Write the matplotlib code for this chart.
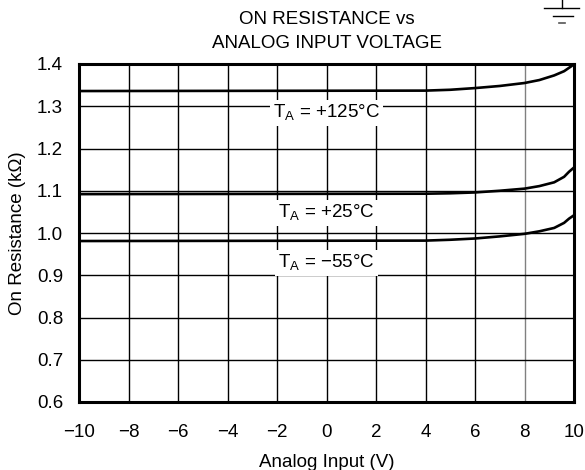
import matplotlib.pyplot as plt
from matplotlib.lines import Line2D

plt.rcParams['font.family'] = ['Liberation Sans', 'DejaVu Sans']

# analog input voltage (V)
v_in = [-10, 4, 5, 6, 7, 8, 8.6, 9.2, 9.6, 9.8, 9.9, 10]
# on resistance (kOhm) per temperature
r_125 = [1.336, 1.337, 1.339, 1.343, 1.348, 1.355, 1.362, 1.373, 1.383, 1.391, 1.395, 1.400]
r_25 = [1.092, 1.093, 1.094, 1.096, 1.100, 1.105, 1.111, 1.120, 1.133, 1.145, 1.150, 1.155]
r_m55 = [0.981, 0.982, 0.984, 0.987, 0.992, 0.998, 1.004, 1.012, 1.024, 1.034, 1.038, 1.042]

labels = ['T$_\\mathregular{A}$ = +125°C', 'T$_\\mathregular{A}$ = +25°C', 'T$_\\mathregular{A}$ = \u221255°C']
label_y = [1.284, 1.047, 0.929]

xticks = [-10, -8, -6, -4, -2, 0, 2, 4, 6, 8, 10]
yticks = [0.6, 0.7, 0.8, 0.9, 1.0, 1.1, 1.2, 1.3, 1.4]

fig = plt.figure(figsize=(5.85, 4.7), dpi=100)
ax = fig.add_axes([79 / 585, 1 - 402 / 470, 495 / 585, 338 / 470])

for x in xticks[1:-1]:
    ax.axvline(x, color='#808080' if x == 8 else 'black', lw=1.0, zorder=1)
for y in yticks[1:-1]:
    ax.axhline(y, color='black', lw=1.0, zorder=1)

for r in (r_125, r_25, r_m55):
    ax.plot(v_in, r, color='black', lw=1.9, zorder=3, solid_capstyle='butt')

for txt, y in zip(labels, label_y):
    ax.text(0.0, y, txt, ha='center', va='center', fontsize=13.5, zorder=4,
            bbox=dict(facecolor='white', edgecolor='none', pad=2))

ax.set_xlim(-10, 10)
ax.set_ylim(0.6, 1.4)
ax.set_xticks(xticks)
ax.set_xticklabels(['\u2212%d' % -x if x < 0 else str(x) for x in xticks])
ax.set_yticks(yticks)
ax.set_yticklabels(['%.1f' % y for y in yticks])
ax.tick_params(length=0, labelsize=13.5)
ax.tick_params(axis='x', pad=16)
ax.tick_params(axis='y', pad=11.5)
for s in ax.spines.values():
    s.set_linewidth(2.2)

ax.set_xlabel('Analog Input (V)', fontsize=13.5)
ax.xaxis.set_label_coords(0.5, -0.155)
ax.set_ylabel('On Resistance (k\u03a9)', fontsize=13.5)
ax.yaxis.set_label_coords(-0.108, 0.5)

# two-line title, centred over the plot area
tx = (79 + 574) / 2 / 585
fig.text(tx, 1 - 24 / 470, 'ON RESISTANCE vs', ha='center', va='baseline', fontsize=13.5)
fig.text(tx, 1 - 48 / 470, 'ANALOG INPUT VOLTAGE', ha='center', va='baseline', fontsize=13.5)

# ground symbol in the top right corner
fig.add_artist(Line2D([0.9607, 0.9607], [1.0, 0.982], color='black', lw=1, transform=fig.transFigure))
fig.add_artist(Line2D([0.930, 0.990], [0.982, 0.982], color='black', lw=1, transform=fig.transFigure))
fig.add_artist(Line2D([0.945, 0.979], [0.966, 0.966], color='black', lw=1, transform=fig.transFigure))
fig.add_artist(Line2D([0.9556, 0.9658], [0.951, 0.951], color='#555555', lw=1.2, transform=fig.transFigure))

fig.savefig('out.png', dpi=100)
